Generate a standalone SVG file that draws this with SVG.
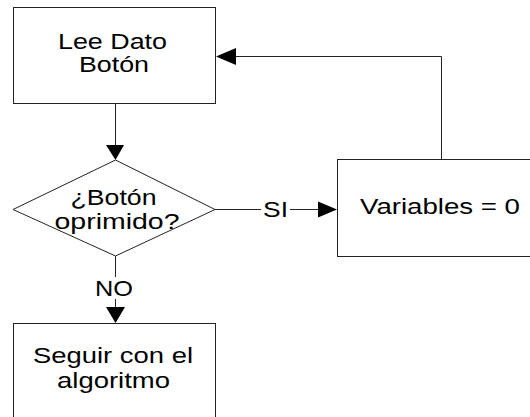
<svg xmlns="http://www.w3.org/2000/svg" width="530" height="417" viewBox="0 0 530 417">
<style>
.box{fill:#fff;stroke:#222;stroke-width:1}
.ln{fill:none;stroke:#222;stroke-width:1}
.ah{fill:#000;stroke:none}
text{font-family:"Liberation Sans",Arial,sans-serif;font-size:22px;fill:#000;text-anchor:middle}
</style>
<rect width="530" height="417" fill="#fff"/>
<g id="connectors">
<path class="ln" d="M115.5,103 V146"/>
<polygon class="ah" points="106,145 124,145 115.5,160"/>
<path class="ln" d="M215,209.5 H261 M290,209.5 H319"/>
<polygon class="ah" points="318,201.5 318,217.5 337,209.5"/>
<path class="ln" d="M441.5,159 V56.5 H235"/>
<polygon class="ah" points="236,48 236,65 216,56.5"/>
<path class="ln" d="M115.5,256 V277 M115.5,299 V308"/>
<polygon class="ah" points="106,307 125,307 115.5,323"/>
<text x="275.5" y="217" textLength="25" lengthAdjust="spacingAndGlyphs">SI</text>
<text x="114" y="296" textLength="38" lengthAdjust="spacingAndGlyphs">NO</text>
</g>
<g id="node-lee">
<rect class="box" x="13.5" y="7.5" width="202" height="96"/>
<text x="112.5" y="49" textLength="109" lengthAdjust="spacingAndGlyphs">Lee Dato</text>
<text x="114" y="72" textLength="70" lengthAdjust="spacingAndGlyphs">Botón</text>
</g>
<g id="node-decision">
<polygon class="box" points="115.5,160 215,209.5 115.5,256 13,209.5"/>
<text x="113.5" y="205" textLength="86" lengthAdjust="spacingAndGlyphs">¿Botón</text>
<text x="117" y="229" textLength="125" lengthAdjust="spacingAndGlyphs">oprimido?</text>
</g>
<g id="node-variables">
<rect class="box" x="337.5" y="159.5" width="200" height="97"/>
<text x="440" y="214" textLength="160" lengthAdjust="spacingAndGlyphs">Variables = 0</text>
</g>
<g id="node-seguir">
<rect class="box" x="13.5" y="323.5" width="202" height="110"/>
<text x="113" y="363" textLength="160" lengthAdjust="spacingAndGlyphs">Seguir con el</text>
<text x="113.5" y="388" textLength="113" lengthAdjust="spacingAndGlyphs">algoritmo</text>
</g>
</svg>
